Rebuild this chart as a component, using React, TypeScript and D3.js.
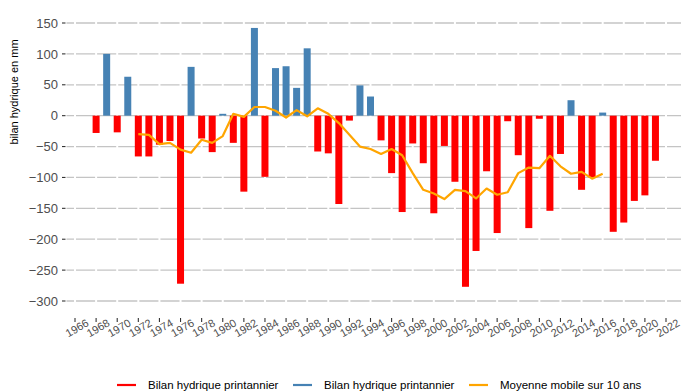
import React from "react";
import * as d3 from "d3";

const years: number[] = d3.range(1968, 2022);
const values: number[] = [
  -28, 100, -27, 63, -66, -66, -47, -41, -272, 79,
  -37, -59, 3, -44, -123, 142, -99, 77, 80, 45,
  109, -58, -61, -143, -8, 49, 31, -40, -93, -156,
  -45, -77, -158, -49, -107, -277, -219, -90, -190, -9,
  -64, -182, -5, -154, -62, 25, -120, -100, 5, -188,
  -173, -138, -129, -73,
];
const maYears: number[] = d3.range(1972, 2017);
const maValues: number[] = [
  -30, -31, -46, -44, -55, -60, -39, -44, -33, 3,
  -2, 14, 14, 8, -3, 9, -1, 12, 3, -12,
  -31, -50, -54, -62, -54, -64, -93, -120, -126, -135,
  -120, -122, -134, -118, -128, -124, -93, -84, -85, -65,
  -82, -94, -91, -102, -94,
];
const yTicks: number[] = [150, 100, 50, 0, -50, -100, -150, -200, -250, -300];
const xTicks: number[] = d3.range(1966, 2023, 2);
const legendLabels: string[] = [
  "Bilan hydrique printannier",
  "Bilan hydrique printannier",
  "Moyenne mobile sur 10 ans",
];
const legendColors: string[] = ["#ff0000", "#4682b4", "#ffa500"];

const W = 681;
const H = 392;
const panelLeft = 66.5;
const panelRight = 681;
const panelTop = 8;
const panelBottom = 314;

export default function App() {
  const x = d3.scaleLinear().domain([1966, 2022]).range([75, 666]);
  const y = d3.scaleLinear().domain([-300, 150]).range([301, 23]);
  const barW = 7;
  const line = d3
    .line<number>()
    .x((_, i) => x(maYears[i]))
    .y((d) => y(d));
  const font = "'Liberation Sans', Arial, Helvetica, sans-serif";
  const legendX = [117, 293, 469];

  return (
    <svg
      width={W}
      height={H}
      style={{ position: "absolute", left: 0, top: 0, display: "block", background: "#fff" }}
      fontFamily={font}
    >
      {yTicks.map((t) => (
        <line
          key={"g" + t}
          x1={panelLeft}
          x2={panelRight}
          y1={y(t)}
          y2={y(t)}
          stroke="#c4c4c4"
          strokeWidth={1.3}
        />
      ))}
      {xTicks.map((t) => (
        <line
          key={"v" + t}
          x1={x(t)}
          x2={x(t)}
          y1={panelTop}
          y2={panelBottom}
          stroke="#fff"
          strokeWidth={2}
        />
      ))}
      {values.map((v, i) => (
        <rect
          key={"b" + years[i]}
          x={x(years[i]) - barW / 2}
          y={Math.min(y(v), y(0))}
          width={barW}
          height={Math.abs(y(v) - y(0))}
          fill={v < 0 ? "#ff0000" : "#4682b4"}
        />
      ))}
      <path d={line(maValues) || ""} fill="none" stroke="#ffa500" strokeWidth={2.2} strokeLinejoin="round" />
      {yTicks.map((t) => (
        <g key={"yt" + t}>
          <line x1={62} x2={65.5} y1={y(t)} y2={y(t)} stroke="#333" strokeWidth={1.1} />
          <text
            x={58}
            y={y(t)}
            dy="0.36em"
            textAnchor="end"
            fontSize={13}
            fill="#4d4d4d"
          >
            {t < 0 ? "\u2212" + Math.abs(t) : String(t)}
          </text>
        </g>
      ))}
      {xTicks.map((t) => (
        <g key={"xt" + t}>
          <line x1={x(t)} x2={x(t)} y1={318} y2={322} stroke="#333" strokeWidth={1.1} />
          <text
            transform={`translate(${x(t) + 2},${328}) rotate(-30)`}
            textAnchor="middle"
            dy="0.35em"
            fontSize={11}
            fill="#4d4d4d"
          >
            {t}
          </text>
        </g>
      ))}
      <text
        transform={`translate(18,${92}) rotate(-90)`}
        textAnchor="middle"
        fontSize={11}
        fill="#000"
      >
        bilan hydrique en mm
      </text>
      {legendLabels.map((l, i) => (
        <g key={"lg" + i}>
          <line
            x1={legendX[i]}
            x2={legendX[i] + 19}
            y1={385}
            y2={385}
            stroke={legendColors[i]}
            strokeWidth={2.2}
          />
          <text x={legendX[i] + 31} y={385} dy="0.36em" fontSize={11.5} fill="#000">
            {l}
          </text>
        </g>
      ))}
    </svg>
  );
}
